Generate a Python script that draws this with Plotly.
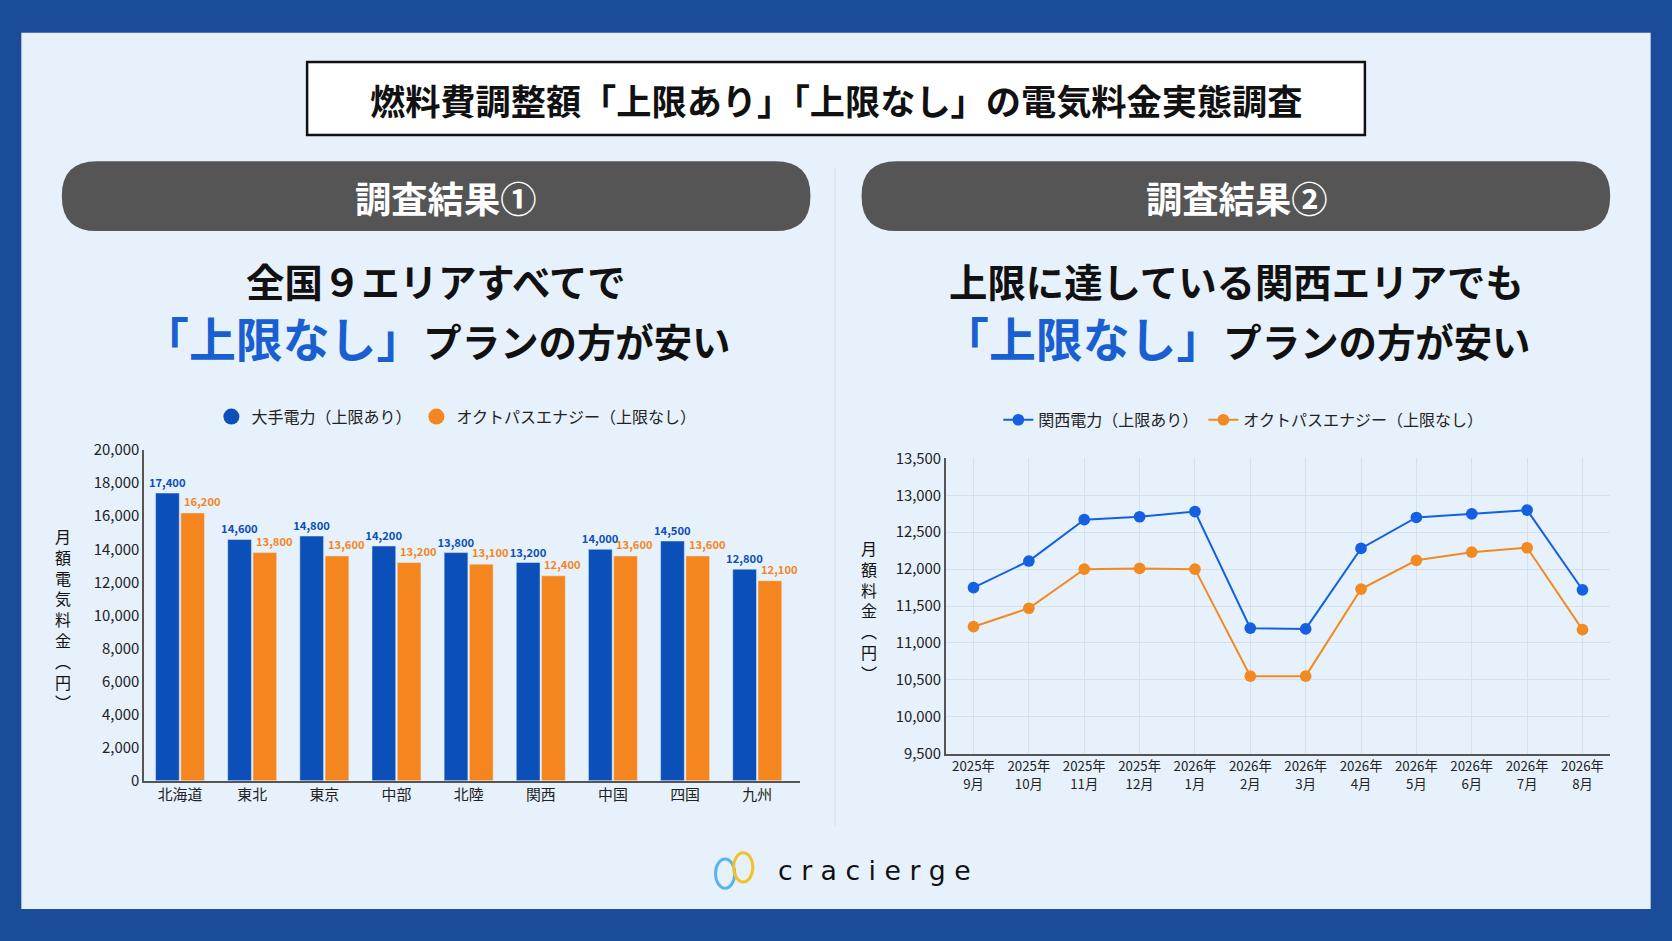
import plotly.graph_objects as go

W0, H0 = 1568, 882
S = 1672 / 1568
def px(x): return x / W0
def py(y): return 1 - y / H0
def fs(v): return round(v * S, 1)

FONT = "Noto Sans CJK JP"

areas = ["北海道", "東北", "東京", "中部", "北陸", "関西", "中国", "四国", "九州"]
major = [17400, 14600, 14800, 14200, 13800, 13200, 14000, 14500, 12800]
octo_bar = [16200, 13800, 13600, 13200, 13100, 12400, 13600, 13600, 12100]

months = ["2025年<br>9月", "2025年<br>10月", "2025年<br>11月", "2025年<br>12月", "2026年<br>1月",
          "2026年<br>2月", "2026年<br>3月", "2026年<br>4月", "2026年<br>5月", "2026年<br>6月",
          "2026年<br>7月", "2026年<br>8月"]
kansai = [11750, 12110, 12670, 12710, 12780, 11200, 11190, 12280, 12700, 12750, 12800, 11720]
octo_line = [11220, 11470, 12000, 12010, 12000, 10550, 10550, 11730, 12120, 12230, 12290, 11180]

BLUE = "#0b4fb8"
ORANGE = "#f5861f"
LBLUE = "#1560e0"
LORANGE = "#f28a22"

fig = go.Figure()
fig.add_trace(go.Bar(x=areas, y=major, name="大手電力（上限あり）", marker_color=BLUE, showlegend=False,
                     text=[f"<b>{v:,}</b>" for v in major], textposition="outside", constraintext="none",
                     textfont=dict(color=BLUE, size=fs(10.5), family=FONT), cliponaxis=False,
                     xaxis="x", yaxis="y"))
fig.add_trace(go.Bar(x=areas, y=octo_bar, name="オクトパスエナジー（上限なし）", marker_color=ORANGE, showlegend=False,
                     xaxis="x", yaxis="y"))
for nm, c in [("大手電力（上限あり）", BLUE), ("オクトパスエナジー（上限なし）", ORANGE)]:
    fig.add_trace(go.Scatter(x=[None], y=[None], mode="markers", name=nm,
                             marker=dict(size=fs(20), color=c, symbol="circle"),
                             xaxis="x", yaxis="y", legend="legend"))
fig.add_trace(go.Scatter(x=months, y=kansai, name="関西電力（上限あり）", mode="lines+markers",
                         line=dict(color=LBLUE, width=2), marker=dict(size=fs(11), color=LBLUE),
                         xaxis="x2", yaxis="y2", legend="legend2"))
fig.add_trace(go.Scatter(x=months, y=octo_line, name="オクトパスエナジー（上限なし）", mode="lines+markers",
                         line=dict(color=LORANGE, width=2), marker=dict(size=fs(11), color=LORANGE),
                         xaxis="x2", yaxis="y2", legend="legend2"))

def pill(x0, x1, y0, y1, r=33):
    rx, ry = r / W0, r / H0
    X0, X1, Yt, Yb = px(x0), px(x1), py(y0), py(y1)
    return (f"M{X0+rx},{Yt} L{X1-rx},{Yt} Q{X1},{Yt} {X1},{Yt-ry} L{X1},{Yb+ry} Q{X1},{Yb} {X1-rx},{Yb} "
            f"L{X0+rx},{Yb} Q{X0},{Yb} {X0},{Yb+ry} L{X0},{Yt-ry} Q{X0},{Yt} {X0+rx},{Yt} Z")

shapes = [
    dict(type="rect", xref="paper", yref="paper", x0=px(20), x1=px(1548), y0=py(860), y1=py(20),
         fillcolor="#e6f1fb", line=dict(width=0), layer="below"),
    dict(type="rect", xref="paper", yref="paper", x0=px(288), x1=px(1280), y0=py(118), y1=py(48),
         fillcolor="white", line=dict(color="#111", width=2.5), layer="below"),
    dict(type="path", xref="paper", yref="paper", path=pill(58, 760, 143, 210),
         fillcolor="#555555", line=dict(width=0), layer="below"),
    dict(type="path", xref="paper", yref="paper", path=pill(808, 1510, 143, 210),
         fillcolor="#555555", line=dict(width=0), layer="below"),
    dict(type="line", xref="paper", yref="paper", x0=px(783), x1=px(783), y0=py(780), y1=py(150),
         line=dict(color="#d5dde8", width=1), layer="below"),
    dict(type="circle", xref="paper", yref="paper", x0=px(671), x1=px(689), y0=py(840), y1=py(812),
         line=dict(color="#5ab4ea", width=3)),
    dict(type="circle", xref="paper", yref="paper", x0=px(688), x1=px(706), y0=py(834), y1=py(806),
         line=dict(color="#f2c12e", width=3)),
]

ann = []
def T(x, y, text, size, color="#111", bold=False):
    ann.append(dict(xref="paper", yref="paper", x=px(x), y=py(y), text=f"<b>{text}</b>" if bold else text,
                    showarrow=False, xanchor="center", yanchor="middle",
                    font=dict(size=fs(size), color=color, family=FONT)))

T(784, 84, "燃料費調整額「上限あり」「上限なし」の電気料金実態調査", 33, bold=True)
T(418, 177, "調査結果①", 34, color="white", bold=True)
T(1160, 177, "調査結果②", 34, color="white", bold=True)
T(409, 257, "全国９エリアすべてで", 36, bold=True)
T(1160, 257, "上限に達している関西エリアでも", 36, bold=True)
hl = f"<span style='color:#1a5fd0;font-size:{fs(44)}px'>「上限なし」</span>プランの方が安い"
T(409, 312, hl, 36, bold=True)
T(1160, 312, hl, 36, bold=True)
T(59, 582, "<br>".join(list("月額電気料金")) + "<br>︵<br>円<br>︶", 15)
T(815, 574, "<br>".join(list("月額料金")) + "<br>︵<br>円<br>︶", 15)
ann.append(dict(xref="paper", yref="paper", x=px(728), y=py(823), text="c r a c i e r g e", showarrow=False,
                xanchor="left", yanchor="middle",
                font=dict(size=fs(25), color="#111", family="DejaVu Sans")))
# orange value labels, offset a little to the right of their bars
for a, v in zip(areas, octo_bar):
    ann.append(dict(xref="x", yref="y", x=a, y=v, text=f"<b>{v:,}</b>", showarrow=False,
                    xanchor="center", yanchor="bottom", xshift=22, yshift=2,
                    font=dict(size=fs(10.5), color=ORANGE, family=FONT)))

tick = dict(size=fs(14), color="#222", family=FONT)
fig.update_layout(
    width=1672, height=941, margin=dict(l=0, r=0, t=0, b=0),
    paper_bgcolor="#1b4c99", plot_bgcolor="rgba(0,0,0,0)",
    font=dict(family=FONT), shapes=shapes, annotations=ann,
    barmode="group", bargap=0.3, bargroupgap=0.06,
    xaxis=dict(domain=[px(135), px(750)], anchor="y", showline=True, linecolor="#555", linewidth=1.5,
               tickfont=tick, ticks=""),
    yaxis=dict(domain=[py(737), py(420)], anchor="x", range=[0, 20000], dtick=2000, tickformat=",",
               showgrid=False, showline=True, linecolor="#555", linewidth=1.5, tickfont=tick, zeroline=False),
    xaxis2=dict(domain=[px(887), px(1510)], anchor="y2", showline=True, linecolor="#555", linewidth=1.5,
                showgrid=True, gridcolor="#d6e0ec", tickfont=dict(size=fs(12.5), color="#222", family=FONT),
                ticks="", range=[-0.5, 11.5]),
    yaxis2=dict(domain=[py(711), py(428)], anchor="x2", range=[9500, 13500], dtick=500, tickformat=",",
                showgrid=True, gridcolor="#d6e0ec", showline=True, linecolor="#555", linewidth=1.5,
                tickfont=tick, zeroline=False),
    legend=dict(orientation="h", x=px(428), y=py(388), xanchor="center", yanchor="middle",
                font=dict(size=fs(15), color="#222", family=FONT), bgcolor="rgba(0,0,0,0)",
                itemsizing="trace"),
    legend2=dict(orientation="h", x=px(1166), y=py(391), xanchor="center", yanchor="middle",
                 font=dict(size=fs(15), color="#222", family=FONT), bgcolor="rgba(0,0,0,0)"),
)
fig.write_html("out.html", config={"displayModeBar": False},
               post_script="document.body.style.margin='0';document.body.style.overflow='hidden';")
